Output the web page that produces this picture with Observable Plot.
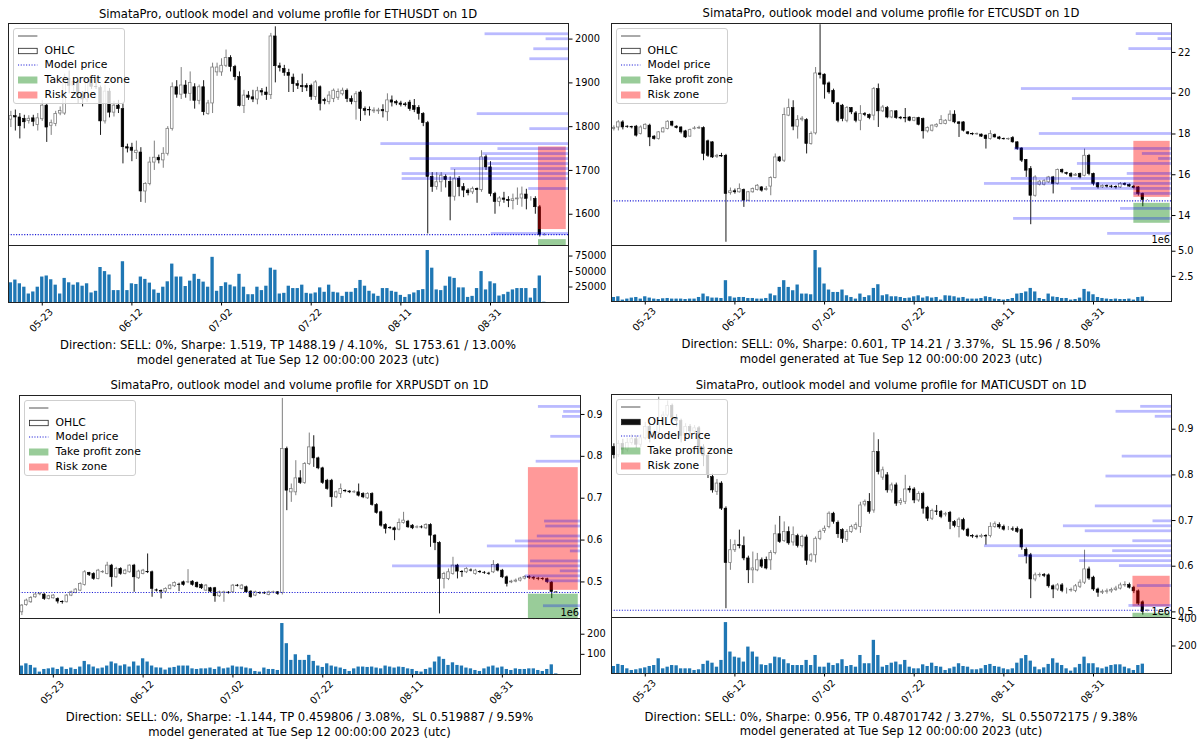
<!DOCTYPE html>
<html>
<head>
<meta charset="utf-8">
<script src="https://cdn.jsdelivr.net/npm/d3@7"></script>
<script src="https://cdn.jsdelivr.net/npm/@observablehq/plot@0.6"></script>
<style>
html,body{margin:0;padding:0;background:#fff;}
#root{position:relative;width:1200px;height:747px;overflow:hidden;font-family:"DejaVu Sans",Verdana,sans-serif;color:#000;background:#fff;}
.t{position:absolute;white-space:pre;font-size:11.6px;line-height:14px;transform:translate(-50%,-50%);}
.off{position:absolute;font-size:9.8px;line-height:11px;transform:translate(-100%,-50%);}
.lg{position:absolute;width:112px;height:76px;box-sizing:border-box;background:rgba(255,255,255,0.8);border:1px solid #cfcfcf;border-radius:3px;font-size:10.8px;}
.lg svg{position:absolute;left:4px;}
.lg span{position:absolute;left:31px;line-height:12px;transform:translateY(-50%);white-space:pre;}
</style>
</head>
<body>
<div id="root"></div>
<script>
// ---------- shared axis data ----------
const startDay = "2023-05-16";
const tickDays = ["2023-05-23","2023-06-12","2023-07-02","2023-07-22","2023-08-11","2023-08-31"];
const xStart = "2023-05-15T11:17:00Z", xEnd = "2023-09-17T09:36:00Z";
const legendLabels = ["", "OHLC", "Model price", "Take profit zone", "Risk zone"];

// ---------- ETHUSDT ----------
const ethOpen = [1816,1824,1821,1818,1813,1819,1804,1817,1848,1802,1806,1830,1830,1910,1893,1902,1873,1862,1907,1891,1888,1812,1880,1832,1848,1840,1753,1752,1740,1741,1652,1669,1718,1729,1723,1738,1795,1890,1873,1894,1875,1890,1859,1890,1829,1853,1924,1924,1939,1957,1936,1913,1847,1871,1867,1862,1881,1878,1872,2006,1938,1932,1923,1912,1897,1893,1893,1893,1868,1890,1861,1856,1863,1866,1874,1882,1863,1856,1878,1840,1838,1835,1835,1838,1833,1860,1856,1853,1851,1855,1847,1843,1829,1808,1685,1662,1673,1685,1674,1640,1681,1662,1654,1650,1658,1655,1730,1707,1646,1628,1636,1633,1630,1634,1636,1645,1635,1635,1616,1553];
const ethHigh = [1835,1838,1830,1826,1825,1826,1830,1860,1852,1815,1835,1845,1920,1927,1910,1905,1880,1910,1909,1913,1893,1895,1887,1858,1860,1852,1760,1762,1767,1752,1672,1730,1767,1735,1752,1800,1900,1905,1935,1905,1925,1898,1895,1905,1860,1945,1945,1955,1975,1962,1940,1925,1883,1880,1883,1890,1887,1890,2013,2028,1945,1940,1931,1920,1905,1920,1898,1897,1905,1893,1865,1880,1886,1886,1888,1886,1870,1880,1882,1845,1845,1843,1842,1850,1875,1870,1860,1858,1855,1860,1862,1848,1832,1812,1695,1695,1695,1690,1685,1702,1686,1670,1658,1662,1660,1745,1735,1720,1650,1640,1650,1640,1646,1660,1662,1657,1640,1640,1620,1556];
const ethLow = [1798,1790,1772,1795,1806,1800,1790,1812,1764,1780,1800,1825,1826,1875,1880,1852,1845,1855,1885,1885,1780,1806,1820,1822,1830,1715,1740,1720,1725,1627,1625,1665,1700,1715,1705,1733,1790,1865,1862,1865,1858,1840,1850,1825,1826,1830,1915,1915,1935,1925,1905,1845,1830,1860,1855,1850,1870,1860,1862,1900,1925,1915,1878,1878,1885,1878,1880,1860,1860,1836,1850,1850,1855,1860,1870,1855,1850,1815,1812,1825,1824,1830,1828,1820,1812,1845,1848,1845,1845,1835,1832,1815,1800,1555,1650,1655,1650,1660,1585,1630,1640,1638,1642,1645,1625,1650,1700,1640,1600,1617,1625,1615,1610,1620,1616,1610,1630,1600,1548,1550];
const ethClose = [1824,1821,1801,1810,1818,1811,1819,1848,1798,1808,1829,1836,1910,1893,1902,1873,1862,1907,1891,1890,1812,1880,1832,1848,1840,1753,1750,1745,1745,1652,1669,1718,1729,1723,1738,1795,1890,1873,1894,1875,1900,1859,1890,1833,1853,1935,1935,1939,1957,1936,1913,1847,1871,1866,1862,1881,1878,1872,2006,1938,1934,1923,1916,1897,1893,1890,1889,1868,1901,1852,1858,1871,1882,1879,1882,1863,1856,1874,1840,1836,1837,1837,1837,1835,1860,1855,1853,1850,1849,1840,1838,1829,1808,1685,1662,1673,1688,1678,1640,1681,1662,1654,1648,1658,1655,1730,1707,1646,1628,1636,1633,1630,1634,1636,1645,1635,1635,1616,1553,1553];
const ethVolume = [31800,36200,30200,24700,13700,17000,24700,41100,42800,36700,28000,13700,38900,31800,28000,31800,26300,30200,15400,18100,56500,49900,44400,19200,19200,65800,19200,30200,29100,41100,37300,31300,20300,14800,24700,33400,62000,41100,41100,25800,34500,45500,37300,32900,24700,72900,18100,25800,31800,28000,25200,45500,24700,12600,12600,24700,19200,26300,55400,52100,13700,14800,26300,22500,22500,28000,14800,13700,15400,23600,16500,28000,16500,15400,9900,16500,16500,22500,35600,26300,18100,13700,9900,22500,22500,18100,16500,11500,8200,12600,15400,19200,20800,83900,55400,20300,19200,26300,41100,38900,23600,23600,8200,9900,22500,49900,20300,33400,30200,10400,12600,16500,20300,22500,22500,22500,7100,22500,42800,500];
const ethProfilePrice = [1555.0,1657.6,1680.4,1691.8,1703.2,1714.6,1726.0,1737.4,1748.8,1760.2,1794.4,1828.6,1954.0,1976.8,1999.6,2011.0];
const ethProfileVolume = [138,71,297,297,210,144,283,153,126,335,69,163,69,62,40,149];
const ethPriceTicks = [1600,1700,1800,1900,2000];
const ethVolumeTicks = [25000,50000,75000];
const ethModel = 1553.5;
const ethRisk = [1565, 1753.61], ethTP = [1488.19, 1542];
const ethZoneDates = ["2023-09-10T17:00:00Z","2023-09-16T21:36:00Z"];
const ethNotes = ["Direction: SELL: 0%, Sharpe: 1.519, TP 1488.19 / 4.10%,  SL 1753.61 / 13.00%", "model generated at Tue Sep 12 00:00:00 2023 (utc)"];

// ---------- ETCUSDT ----------
const etcOpen = [18.25,18.32,18.57,18.36,18.34,18.36,18.00,18.24,18.41,17.87,17.75,18.08,18.24,18.60,18.36,18.32,18.13,17.87,18.24,18.27,18.29,17.64,17.59,16.88,16.93,16.93,15.10,15.19,15.14,15.25,14.73,15.14,15.25,15.38,15.25,15.42,15.84,16.85,16.69,18.90,19.27,18.36,18.70,18.68,17.51,18.03,20.97,20.91,20.48,20.12,19.50,19.39,18.65,19.27,19.01,18.65,18.98,18.93,18.90,20.20,19.11,19.27,18.81,19.11,18.80,18.78,18.81,18.65,18.78,18.73,18.13,18.16,18.36,18.49,18.49,18.65,18.95,18.57,18.57,18.08,18.00,17.98,17.97,17.92,17.75,17.95,17.83,17.76,17.74,17.80,17.59,17.29,16.72,16.28,14.97,15.51,15.51,15.63,15.87,15.55,16.23,16.08,16.04,15.95,16.04,15.95,16.93,16.04,15.58,15.38,15.45,15.42,15.40,15.38,15.55,15.50,15.42,15.38,15.06,14.76];
const etcHigh = [18.40,18.65,18.65,18.40,18.38,18.42,18.40,18.50,18.48,17.92,18.12,18.32,18.65,18.63,18.40,18.35,18.18,18.24,18.36,18.38,18.35,17.70,17.62,17.00,17.05,17.00,15.35,15.30,15.55,15.30,15.18,15.35,15.52,15.42,15.42,15.90,17.02,16.90,19.27,19.71,19.63,18.90,18.85,18.75,18.10,21.26,23.36,20.95,20.55,20.20,19.55,19.45,19.35,19.30,19.10,19.39,19.05,18.98,20.28,20.45,19.40,19.35,19.15,19.15,18.85,19.25,18.85,18.82,18.82,18.78,18.35,18.45,18.50,18.90,18.70,19.14,19.14,18.60,18.60,18.12,18.05,18.05,18.00,17.95,18.16,18.00,17.88,17.80,17.80,17.87,17.62,17.32,16.75,16.40,15.95,15.72,15.75,15.92,15.92,16.28,16.28,16.12,16.10,16.06,16.08,17.26,17.00,16.08,15.62,15.50,15.50,15.48,15.46,15.62,15.60,15.55,15.48,15.42,15.10,14.78];
const etcLow = [18.15,18.15,18.20,18.28,18.25,17.85,17.95,18.20,17.38,17.70,17.70,18.05,18.20,18.35,18.25,18.00,17.78,17.85,18.20,18.22,16.69,16.85,16.80,16.80,16.85,12.69,15.00,15.05,15.10,14.40,14.68,15.10,15.20,15.15,15.20,14.97,15.80,16.60,16.60,18.85,18.16,17.75,18.60,17.02,17.45,17.95,20.70,19.71,19.95,19.45,18.55,18.60,18.55,18.95,18.55,18.16,18.85,18.70,18.65,18.32,19.05,18.75,18.75,18.72,18.70,18.55,18.60,18.60,18.40,17.75,18.05,18.10,18.30,18.45,18.45,18.60,18.50,17.83,18.10,17.95,17.92,17.93,17.83,17.26,17.70,17.80,17.70,17.70,17.68,17.55,17.20,16.60,15.87,13.55,14.90,15.45,15.45,15.58,15.06,15.50,16.05,15.98,15.85,15.92,15.80,15.90,15.95,15.45,15.30,15.33,15.35,15.33,15.30,15.33,15.45,15.38,15.30,14.95,14.43,14.74];
const etcClose = [18.30,18.57,18.32,18.34,18.32,17.92,18.32,18.45,17.83,17.75,18.08,18.27,18.60,18.41,18.29,18.08,17.83,18.19,18.27,18.30,17.02,16.93,16.85,16.93,16.90,15.06,15.19,15.14,15.30,14.73,15.14,15.30,15.46,15.22,15.30,15.84,16.85,16.66,18.93,19.27,18.36,18.68,18.75,17.51,18.00,20.97,20.89,20.42,20.04,19.55,18.65,18.73,19.27,19.06,18.65,18.98,18.93,18.78,20.20,19.11,19.30,18.81,19.11,18.78,18.76,18.76,18.65,18.78,18.45,18.13,18.29,18.41,18.45,18.68,18.65,18.95,18.57,18.49,18.16,18.00,17.98,18.00,17.87,17.75,18.00,17.83,17.75,17.74,17.75,17.59,17.26,16.69,16.20,14.97,15.87,15.66,15.68,15.87,15.55,16.23,16.12,16.04,15.91,16.00,15.87,16.93,16.04,15.55,15.38,15.45,15.42,15.40,15.38,15.55,15.50,15.42,15.35,15.06,14.76,14.76];
const etcVolumeM = [0.40,0.47,0.14,0.24,0.34,0.40,0.24,0.47,0.34,0.24,0.20,0.27,0.30,0.24,0.24,0.24,0.20,0.24,0.24,0.40,0.74,0.47,0.34,0.34,0.30,2.07,0.47,0.34,0.40,0.40,0.30,0.30,0.24,0.24,0.30,0.74,0.57,1.40,2.07,1.40,1.07,1.64,0.74,0.74,0.67,5.07,3.34,1.74,1.14,0.90,0.90,1.14,0.57,0.40,0.24,0.74,0.40,0.57,1.30,1.67,0.57,0.67,0.47,0.47,0.40,0.30,0.34,0.47,0.57,0.34,0.47,0.34,0.40,0.14,0.57,0.54,0.47,0.34,0.40,0.24,0.24,0.24,0.30,0.47,0.40,0.24,0.20,0.14,0.20,0.30,0.74,0.80,0.95,1.30,0.95,0.30,0.20,0.74,0.45,0.40,0.30,0.30,0.14,0.20,0.34,1.20,0.95,0.67,0.40,0.30,0.24,0.20,0.24,0.20,0.20,0.24,0.14,0.40,0.45,0.02];
const etcProfilePrice = [13.10,13.835,14.325,15.06,15.305,15.55,15.795,16.04,16.53,16.775,17.02,17.265,18.0,19.715,20.205,22.165,22.655,22.90];
const etcProfileVolume = [114,282,91,67,179,334,286,79,168,23,52,280,236,177,268,76,24,63];
const etcPriceTicks = [14,16,18,20,22];
const etcVolumeTicks = [2.5,5.0];
const etcModel = 14.72;
const etcRisk = [14.89, 17.64], etcTP = [13.62, 14.60];
const etcZoneDates = ["2023-09-09T00:00:00Z","2023-09-17T02:24:00Z"];
const etcNotes = ["Direction: SELL: 0%, Sharpe: 0.601, TP 14.21 / 3.37%,  SL 15.96 / 8.50%", "model generated at Tue Sep 12 00:00:00 2023 (utc)"];

// ---------- XRPUSDT ----------
const xrpOpen = [0.4276,0.4451,0.4515,0.4634,0.4705,0.4698,0.4594,0.4610,0.4594,0.4520,0.4515,0.4674,0.4737,0.4793,0.4928,0.5215,0.5191,0.5072,0.5231,0.5191,0.5390,0.5111,0.5310,0.5191,0.5231,0.5390,0.5088,0.5191,0.5235,0.5231,0.4800,0.4780,0.4769,0.4833,0.4897,0.4935,0.4992,0.4990,0.5008,0.4976,0.4928,0.4793,0.4849,0.4849,0.4658,0.4745,0.4745,0.4753,0.4912,0.4833,0.4873,0.4769,0.4674,0.4735,0.4730,0.4690,0.4745,0.4753,0.4740,0.8174,0.7140,0.7140,0.7474,0.7363,0.7816,0.8214,0.7951,0.7713,0.7418,0.7418,0.7021,0.7100,0.7170,0.7160,0.7140,0.7140,0.7100,0.6997,0.7100,0.6838,0.6663,0.6360,0.6285,0.6281,0.6249,0.6408,0.6440,0.6344,0.6300,0.6305,0.6281,0.6360,0.6106,0.5931,0.5072,0.5072,0.5191,0.5390,0.5240,0.5231,0.5275,0.5191,0.5235,0.5220,0.5200,0.5231,0.5406,0.5270,0.5111,0.4990,0.5008,0.5032,0.5080,0.5119,0.5100,0.5080,0.5070,0.5065,0.4985,0.4750];
const xrpHigh = [0.446,0.459,0.465,0.473,0.474,0.472,0.468,0.470,0.462,0.455,0.470,0.478,0.484,0.498,0.527,0.523,0.522,0.530,0.527,0.5469,0.542,0.535,0.534,0.530,0.5406,0.542,0.528,0.530,0.5668,0.526,0.483,0.481,0.486,0.494,0.500,0.497,0.502,0.5294,0.503,0.500,0.495,0.494,0.487,0.487,0.478,0.478,0.477,0.494,0.494,0.494,0.490,0.479,0.478,0.476,0.476,0.478,0.478,0.477,0.9383,0.822,0.7339,0.7896,0.7657,0.785,0.8556,0.8492,0.798,0.774,0.745,0.745,0.717,0.7339,0.720,0.718,0.718,0.7339,0.713,0.713,0.713,0.687,0.669,0.639,0.632,0.631,0.6504,0.6663,0.647,0.637,0.634,0.634,0.639,0.639,0.613,0.596,0.523,0.531,0.5589,0.542,0.527,0.534,0.531,0.530,0.527,0.525,0.523,0.5509,0.544,0.530,0.514,0.504,0.507,0.511,0.515,0.515,0.513,0.511,0.510,0.509,0.501,0.476];
const xrpLow = [0.4197,0.442,0.449,0.461,0.467,0.456,0.457,0.459,0.4475,0.447,0.450,0.465,0.472,0.477,0.490,0.513,0.504,0.505,0.520,0.517,0.4873,0.509,0.516,0.517,0.521,0.4753,0.506,0.517,0.520,0.4634,0.476,0.4594,0.474,0.481,0.487,0.4769,0.490,0.496,0.490,0.485,0.482,0.477,0.474,0.4515,0.463,0.4515,0.471,0.473,0.488,0.481,0.473,0.461,0.465,0.470,0.470,0.467,0.472,0.468,0.469,0.6702,0.6901,0.7060,0.733,0.733,0.778,0.7737,0.768,0.733,0.719,0.6782,0.699,0.6997,0.713,0.711,0.711,0.703,0.699,0.697,0.681,0.662,0.631,0.6146,0.625,0.5986,0.622,0.638,0.628,0.625,0.627,0.627,0.625,0.5827,0.5748,0.4236,0.4833,0.5032,0.516,0.5072,0.5111,0.520,0.524,0.516,0.520,0.518,0.516,0.520,0.524,0.508,0.488,0.496,0.498,0.500,0.505,0.506,0.504,0.503,0.503,0.496,0.4602,0.474];
const xrpClose = [0.4435,0.4554,0.4618,0.4698,0.4714,0.4594,0.4658,0.4674,0.4531,0.4515,0.4674,0.4753,0.4817,0.4952,0.5231,0.5167,0.5072,0.5270,0.5240,0.5390,0.5111,0.5310,0.5191,0.5270,0.5390,0.5111,0.5247,0.5270,0.5231,0.4833,0.4793,0.4769,0.4833,0.4912,0.4976,0.4928,0.4928,0.4992,0.4928,0.4873,0.4849,0.4912,0.4769,0.4658,0.4753,0.4753,0.4737,0.4912,0.4905,0.4912,0.4753,0.4634,0.4753,0.4730,0.4726,0.4753,0.4753,0.4714,0.8174,0.7180,0.7220,0.7474,0.7363,0.7816,0.8214,0.7951,0.7713,0.7363,0.7220,0.7021,0.7140,0.7220,0.7164,0.7140,0.7145,0.7060,0.7021,0.7100,0.6838,0.6647,0.6344,0.6265,0.6281,0.6233,0.6408,0.6464,0.6305,0.6281,0.6305,0.6300,0.6360,0.6106,0.5931,0.5072,0.5191,0.5231,0.5390,0.5247,0.5231,0.5310,0.5270,0.5270,0.5231,0.5215,0.5191,0.5406,0.5270,0.5111,0.4952,0.5008,0.5032,0.5080,0.5119,0.5100,0.5080,0.5070,0.5065,0.5000,0.4761,0.4748];
const xrpVolumeM = [42,53,45,32,12,25,28,32,25,37,25,32,25,37,65,48,37,28,32,42,62,53,42,48,37,62,42,78,62,42,33,32,22,32,35,42,42,42,28,25,28,28,32,25,37,28,32,42,37,37,32,28,15,12,32,25,25,20,253,153,70,98,70,70,95,65,42,35,53,42,37,32,25,15,28,37,37,35,37,32,28,42,37,32,37,35,28,25,15,12,25,32,62,87,75,45,58,45,42,32,28,20,15,28,37,42,32,37,25,20,28,25,25,28,28,20,15,25,48,3];
const xrpProfilePrice = [0.442,0.5015,0.5134,0.5253,0.5372,0.549,0.5729,0.5848,0.5967,0.6086,0.6324,0.6443,0.7871,0.8466,0.8942,0.9061,0.918];
const xrpProfileVolume = [66,62,98,36,335,89,18,166,116,77,62,64,79,53,32,30,75];
const xrpPriceTicks = [0.5,0.6,0.7,0.8,0.9];
const xrpVolumeTicks = [100,200];
const xrpModel = 0.4747;
const xrpRisk = [0.480, 0.773], xrpTP = [0.40, 0.4707];
const xrpZoneDates = ["2023-09-05T19:12:00Z","2023-09-16T21:36:00Z"];
const xrpNotes = ["Direction: SELL: 0%, Sharpe: -1.144, TP 0.459806 / 3.08%,  SL 0.519887 / 9.59%", "model generated at Tue Sep 12 00:00:00 2023 (utc)"];

// ---------- MATICUSDT ----------
const maticOpen = [0.861,0.843,0.868,0.855,0.870,0.878,0.866,0.880,0.905,0.880,0.892,0.912,0.930,0.951,0.925,0.918,0.885,0.905,0.895,0.902,0.860,0.842,0.795,0.763,0.781,0.726,0.607,0.635,0.646,0.644,0.617,0.591,0.591,0.613,0.614,0.613,0.629,0.670,0.655,0.675,0.652,0.666,0.644,0.663,0.612,0.624,0.660,0.677,0.686,0.715,0.695,0.679,0.657,0.675,0.682,0.686,0.735,0.741,0.722,0.850,0.794,0.799,0.766,0.777,0.738,0.741,0.769,0.768,0.744,0.758,0.728,0.704,0.720,0.719,0.713,0.717,0.697,0.686,0.701,0.680,0.666,0.665,0.664,0.666,0.666,0.686,0.690,0.686,0.682,0.681,0.682,0.679,0.636,0.624,0.571,0.580,0.581,0.580,0.556,0.549,0.558,0.547,0.547,0.546,0.555,0.564,0.593,0.575,0.549,0.542,0.544,0.545,0.548,0.551,0.558,0.559,0.553,0.545,0.521,0.502];
const maticHigh = [0.868,0.875,0.878,0.880,0.888,0.885,0.888,0.915,0.910,0.898,0.970,0.938,0.962,0.955,0.932,0.922,0.912,0.910,0.908,0.906,0.866,0.845,0.802,0.790,0.785,0.730,0.658,0.657,0.679,0.664,0.622,0.631,0.628,0.618,0.620,0.634,0.690,0.709,0.697,0.686,0.686,0.670,0.668,0.668,0.628,0.664,0.679,0.688,0.719,0.718,0.699,0.682,0.680,0.690,0.695,0.740,0.745,0.759,0.892,0.877,0.817,0.805,0.782,0.782,0.748,0.799,0.775,0.772,0.763,0.762,0.731,0.725,0.733,0.722,0.718,0.720,0.700,0.706,0.705,0.683,0.669,0.668,0.670,0.669,0.695,0.697,0.695,0.690,0.687,0.686,0.686,0.682,0.640,0.628,0.585,0.585,0.584,0.583,0.559,0.562,0.562,0.552,0.552,0.560,0.570,0.635,0.598,0.578,0.552,0.548,0.550,0.552,0.556,0.563,0.566,0.563,0.556,0.548,0.524,0.504];
const maticLow = [0.835,0.838,0.845,0.850,0.865,0.858,0.860,0.876,0.870,0.875,0.888,0.905,0.925,0.918,0.905,0.870,0.878,0.888,0.890,0.845,0.818,0.792,0.760,0.755,0.722,0.507,0.591,0.630,0.638,0.612,0.562,0.562,0.588,0.595,0.592,0.591,0.625,0.650,0.652,0.646,0.644,0.640,0.640,0.602,0.608,0.607,0.656,0.672,0.682,0.692,0.661,0.650,0.652,0.672,0.678,0.672,0.730,0.714,0.716,0.800,0.788,0.760,0.760,0.731,0.733,0.735,0.760,0.737,0.740,0.714,0.698,0.700,0.711,0.704,0.708,0.680,0.684,0.662,0.677,0.663,0.661,0.660,0.661,0.646,0.662,0.683,0.681,0.677,0.678,0.676,0.672,0.635,0.605,0.529,0.566,0.575,0.575,0.552,0.529,0.545,0.542,0.539,0.543,0.542,0.551,0.560,0.569,0.545,0.532,0.538,0.539,0.541,0.545,0.548,0.554,0.550,0.540,0.514,0.493,0.500];
const maticClose = [0.843,0.868,0.855,0.870,0.878,0.866,0.880,0.905,0.880,0.892,0.912,0.930,0.951,0.925,0.918,0.885,0.905,0.895,0.902,0.860,0.842,0.800,0.766,0.781,0.726,0.607,0.635,0.646,0.644,0.617,0.591,0.595,0.613,0.599,0.595,0.629,0.670,0.653,0.675,0.650,0.668,0.644,0.664,0.612,0.624,0.660,0.675,0.682,0.715,0.697,0.670,0.660,0.675,0.686,0.690,0.733,0.741,0.719,0.850,0.806,0.810,0.766,0.777,0.737,0.743,0.768,0.766,0.744,0.758,0.726,0.704,0.721,0.719,0.708,0.714,0.697,0.688,0.702,0.680,0.666,0.665,0.664,0.666,0.665,0.686,0.692,0.685,0.680,0.682,0.680,0.675,0.641,0.622,0.571,0.580,0.581,0.579,0.556,0.549,0.558,0.546,0.547,0.548,0.556,0.564,0.593,0.573,0.549,0.542,0.544,0.545,0.548,0.551,0.558,0.559,0.553,0.545,0.518,0.500,0.503];
const maticVolumeM = [51,66,58,34,22,27,34,41,51,58,107,34,46,58,56,34,34,34,22,27,66,90,75,46,95,370,156,119,112,83,192,156,119,63,58,71,119,114,100,71,58,58,58,95,58,131,46,46,75,58,71,100,51,58,46,131,71,71,241,131,46,58,75,83,63,95,46,34,34,63,51,75,51,46,22,34,46,71,51,46,27,27,34,58,66,51,46,34,27,34,75,107,131,90,46,27,41,66,107,75,58,34,17,41,66,119,71,71,41,34,46,58,63,63,46,34,22,58,68,0];
const maticProfilePrice = [0.513,0.5566,0.6002,0.6111,0.622,0.6329,0.6438,0.6547,0.6765,0.6874,0.6983,0.731,0.7964,0.84,0.9272,0.9381,0.949];
const maticProfileVolume = [76,61,93,164,273,105,334,69,154,193,33,136,117,88,29,99,55];
const maticPriceTicks = [0.5,0.6,0.7,0.8,0.9];
const maticVolumeTicks = [200,400];
const maticModel = 0.5035;
const maticRisk = [0.511, 0.578], maticTP = [0.48, 0.497];
const maticZoneDates = ["2023-09-08T19:12:00Z","2023-09-17T02:24:00Z"];
const maticNotes = ["Direction: SELL: 0%, Sharpe: 0.956, TP 0.48701742 / 3.27%,  SL 0.55072175 / 9.38%", "model generated at Tue Sep 12 00:00:00 2023 (utc)"];

// ---------- assembly ----------
const DAY = 864e5;
const dates = ethOpen.map((_, i) => d3.utcDay.offset(new Date(startDay + "T00:00:00Z"), i));
const xDomain = [new Date(xStart), new Date(xEnd)];
const tickDates = tickDays.map(s => new Date(s + "T00:00:00Z"));
const fmtTick = d3.utcFormat("%m-%d");

const panels = [
  {sym:"ETHUSDT", o:ethOpen, h:ethHigh, l:ethLow, c:ethClose, v:ethVolume, pp:ethProfilePrice, pv:ethProfileVolume,
   yTicks:ethPriceTicks, vTicks:ethVolumeTicks, model:ethModel, risk:ethRisk, tp:ethTP, zone:ethZoneDates, notes:ethNotes,
   yDomain:[1528.6,2035.6], vMax:92000, bin:11.4, yFmt:d3.format("d"), vFmt:d3.format("d"), offset:"",
   L:{x:8, y:23, w:560, mh:222, vh:57, tx:288, ty:14, n1:345, n2:360}},
  {sym:"ETCUSDT", o:etcOpen, h:etcHigh, l:etcLow, c:etcClose, v:etcVolumeM, pp:etcProfilePrice, pv:etcProfileVolume,
   yTicks:etcPriceTicks, vTicks:etcVolumeTicks, model:etcModel, risk:etcRisk, tp:etcTP, zone:etcZoneDates, notes:etcNotes,
   yDomain:[12.53,23.42], vMax:5.57, bin:0.245, yFmt:d3.format("d"), vFmt:d3.format(".1f"), offset:"1e6",
   L:{x:611, y:23, w:560, mh:222, vh:56, tx:891, ty:13, n1:344, n2:359}},
  {sym:"XRPUSDT", o:xrpOpen, h:xrpHigh, l:xrpLow, c:xrpClose, v:xrpVolumeM, pp:xrpProfilePrice, pv:xrpProfileVolume,
   yTicks:xrpPriceTicks, vTicks:xrpVolumeTicks, model:xrpModel, risk:xrpRisk, tp:xrpTP, zone:xrpZoneDates, notes:xrpNotes,
   yDomain:[0.4127,0.9453], vMax:278, bin:0.0119, yFmt:d3.format(".1f"), vFmt:d3.format("d"), offset:"1e6",
   L:{x:19, y:395, w:561, mh:223, vh:56, tx:299.5, ty:385, n1:717, n2:732}},
  {sym:"MATICUSDT", o:maticOpen, h:maticHigh, l:maticLow, c:maticClose, v:maticVolumeM, pp:maticProfilePrice, pv:maticProfileVolume,
   yTicks:maticPriceTicks, vTicks:maticVolumeTicks, model:maticModel, risk:maticRisk, tp:maticTP, zone:maticZoneDates, notes:maticNotes,
   yDomain:[0.4877,0.976], vMax:407, bin:0.0109, yFmt:d3.format(".1f"), vFmt:d3.format("d"), offset:"1e6",
   L:{x:611, y:394, w:560, mh:223, vh:56, tx:891, ty:385, n1:717, n2:731}}
];

const root = document.getElementById("root");
const FONT = {fontFamily:"DejaVu Sans, sans-serif", fontSize:"9.8px", color:"black", background:"transparent", overflow:"visible"};

function place(svg, left, top) {
  svg.style.position = "absolute";
  svg.style.left = left + "px";
  svg.style.top = top + "px";
  svg.style.overflow = "visible";
  svg.style.background = "transparent";
  svg.style.maxWidth = "none";
  root.appendChild(svg);
}
function div(cls, text, left, top) {
  const d = document.createElement("div");
  d.className = cls; d.textContent = text;
  d.style.left = left + "px"; d.style.top = top + "px";
  root.appendChild(d);
  return d;
}

for (const p of panels) {
  const L = p.L;
  const rows = dates.map((d, i) => ({date:d, open:p.o[i], high:p.h[i], low:p.l[i], close:p.c[i], volume:p.v[i]}));
  const up = rows.filter(r => r.close >= r.open), down = rows.filter(r => r.close < r.open);
  const hw = 0.29 * DAY, vw = 0.37 * DAY;
  const z0 = new Date(p.zone[0]), z1 = new Date(p.zone[1]);

  const main = Plot.plot({
    width: L.w + 47, height: L.mh + 2,
    marginLeft: 1, marginTop: 1, marginBottom: 1, marginRight: 46,
    style: FONT,
    x: {type:"utc", domain:xDomain, axis:null},
    y: {domain:p.yDomain, axis:"right", ticks:p.yTicks, tickFormat:p.yFmt, tickSize:3.5, tickPadding:3, label:null},
    marks: [
      Plot.ruleX(up, {x:"date", y1:"low", y2:"high", stroke:"#7f7f7f", strokeWidth:1, clip:true}),
      Plot.ruleX(down, {x:"date", y1:"low", y2:"high", stroke:"#1a1a1a", strokeWidth:1, clip:true}),
      Plot.rect(up, {x1:d => new Date(+d.date - hw), x2:d => new Date(+d.date + hw), y1:"open", y2:"close", fill:"white", stroke:"#7f7f7f", strokeWidth:0.8, clip:true}),
      Plot.rect(down, {x1:d => new Date(+d.date - hw), x2:d => new Date(+d.date + hw), y1:"open", y2:"close", fill:"black", stroke:"black", strokeWidth:0.6, clip:true}),
      Plot.ruleY([p.model], {stroke:"#1a1ad6", strokeWidth:1.1, strokeDasharray:"1.1,1.6"}),
      Plot.rect([{a:p.risk[0], b:p.risk[1]}], {x1:() => z0, x2:() => z1, y1:"a", y2:"b", fill:"red", fillOpacity:0.4, clip:true}),
      Plot.rect([{a:p.tp[0], b:p.tp[1]}], {x1:() => z0, x2:() => z1, y1:"a", y2:"b", fill:"green", fillOpacity:0.4, clip:true}),
      Plot.frame({stroke:"#222", strokeWidth:1})
    ]
  });
  place(main, L.x - 1, L.y - 1);

  const prof = p.pp.map((price, i) => ({price, vol:p.pv[i]}));
  const half = p.bin * 0.28;
  const profile = Plot.plot({
    width: L.w + 2, height: L.mh + 2,
    marginLeft: 1, marginTop: 1, marginBottom: 1, marginRight: 1,
    style: FONT,
    x: {domain:[1000, 0], axis:null},
    y: {domain:p.yDomain, axis:null},
    marks: [
      Plot.rect(prof, {x1:() => 0, x2:"vol", y1:d => d.price - half, y2:d => d.price + half, fill:"blue", fillOpacity:0.27, clip:true})
    ]
  });
  place(profile, L.x - 1, L.y - 1);

  const vol = Plot.plot({
    width: L.w + 47, height: L.vh + 46,
    marginLeft: 1, marginTop: 1, marginBottom: 45, marginRight: 46,
    style: FONT,
    x: {type:"utc", domain:xDomain, ticks:tickDates, tickFormat:() => "", tickSize:3.5, label:null},
    y: {domain:[0, p.vMax], axis:"right", ticks:p.vTicks, tickFormat:p.vFmt, tickSize:3.5, tickPadding:3, label:null},
    marks: [
      Plot.rect(rows, {x1:d => new Date(+d.date - vw), x2:d => new Date(+d.date + vw), y1:() => 0, y2:"volume", fill:"#1f77b4", clip:true}),
      Plot.text(tickDates, {x:d => d, frameAnchor:"bottom", text:d => fmtTick(d), rotate:-45, dy:18, dx:-1, textAnchor:"middle", lineAnchor:"middle", fontSize:9.8, fill:"black"}),
      Plot.frame({stroke:"#222", strokeWidth:1})
    ]
  });
  place(vol, L.x - 1, L.y + L.mh - 1);

  // offset text of the volume axis
  if (p.offset) div("off", p.offset, L.x + L.w - 1, L.y + L.mh - 6.5);

  // legend
  const lg = document.createElement("div");
  lg.className = "lg";
  lg.style.left = (L.x + 4.6) + "px";
  lg.style.top = (L.y + 4.5) + "px";
  const firstDown = p.c[0] < p.o[0];
  const handles = [
    `<line x1="0" y1="4" x2="19.4" y2="4" stroke="#555" stroke-width="1"/>`,
    `<rect x="0.4" y="1.3" width="18.8" height="5.4" fill="${firstDown ? "#111" : "white"}" stroke="#222" stroke-width="0.8"/>`,
    `<line x1="0" y1="4" x2="19.4" y2="4" stroke="#1a1ad6" stroke-width="1" stroke-dasharray="1.1,1.6"/>`,
    `<rect x="0" y="0.5" width="19.4" height="7" fill="green" fill-opacity="0.4"/>`,
    `<rect x="0" y="0.5" width="19.4" height="7" fill="red" fill-opacity="0.4"/>`
  ];
  legendLabels.forEach((lab, k) => {
    const cy = 7.2 + 14.8 * k;
    const s = document.createElementNS("http://www.w3.org/2000/svg", "svg");
    s.setAttribute("width", "20"); s.setAttribute("height", "8");
    s.style.top = (cy - 4) + "px";
    s.innerHTML = handles[k];
    lg.appendChild(s);
    const sp = document.createElement("span");
    sp.textContent = lab;
    sp.style.top = cy + "px";
    lg.appendChild(sp);
  });
  root.appendChild(lg);

  div("t", `SimataPro, outlook model and volume profile for ${p.sym} on 1D`, L.tx, L.ty);
  div("t", p.notes[0], L.tx, L.n1);
  div("t", p.notes[1], L.tx, L.n2);
}
</script>
</body>
</html>
